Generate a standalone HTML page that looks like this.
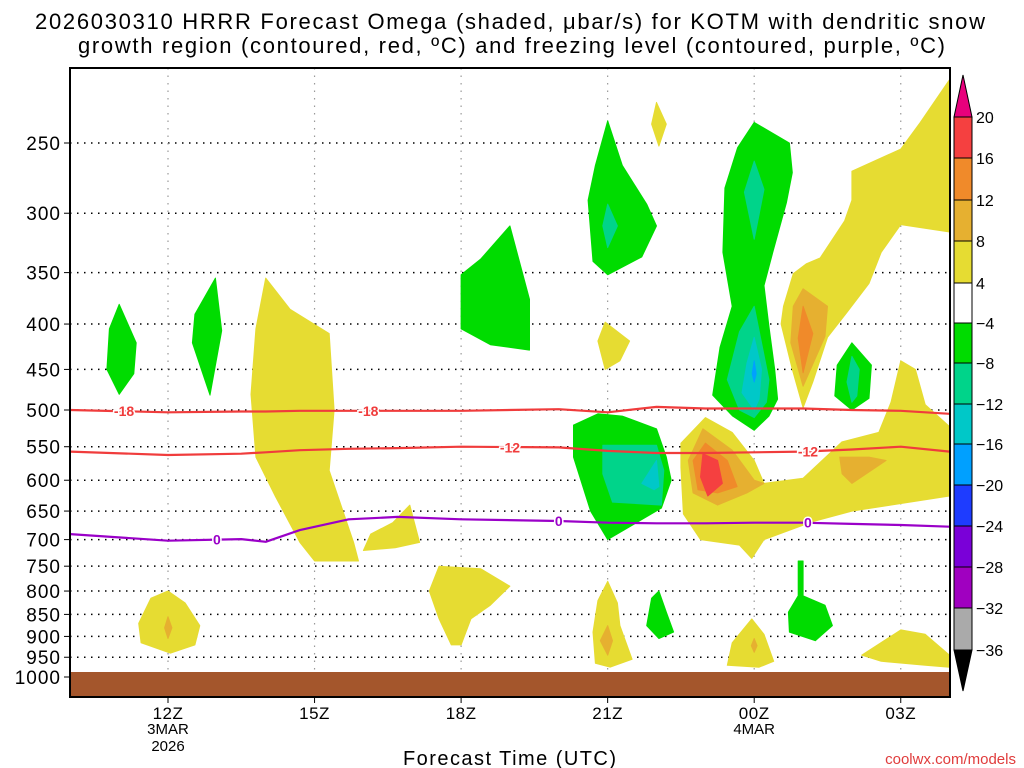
<!DOCTYPE html>
<html><head><meta charset="utf-8"><style>
html,body{margin:0;padding:0;background:#fff;}
svg{display:block;font-family:"Liberation Sans","DejaVu Sans",sans-serif;}
</style></head><body>
<svg id="chart" width="1024" height="768" viewBox="0 0 1024 768" xmlns="http://www.w3.org/2000/svg">
<rect width="1024" height="768" fill="#fff"/>
<text x="35" y="29" textLength="950" lengthAdjust="spacing" font-size="22" fill="#000">2026030310 HRRR Forecast Omega (shaded, μbar/s) for KOTM with dendritic snow</text>
<text x="78" y="53" textLength="867" lengthAdjust="spacing" font-size="22" fill="#000">growth region (contoured, red, ºC) and freezing level (contoured, purple, ºC)</text>
<g id="grid"></g>
<g id="shades"></g>
<g id="lines"></g>
<g id="axes"></g>
<g id="colorbar"></g>
<text x="403" y="765" textLength="213" lengthAdjust="spacing" font-size="20" fill="#000">Forecast Time (UTC)</text>
<text x="1016" y="764" text-anchor="end" font-size="15" fill="#e03c3c">coolwx.com/models</text>
</svg>
<script>
// ---- data ----
const pressureTicks = [250,300,350,400,450,500,550,600,650,700,750,800,850,900,950,1000];
const timeTicks = [12,15,18,21,24,27];
const timeLabels = ["12Z","15Z","18Z","21Z","00Z","03Z"];
const timeSubLabels = ["3MAR\n2026","","","","4MAR",""];
const cbarLevels = [20,16,12,8,4,-4,-8,-12,-16,-20,-24,-28,-32,-36];
const cbarColors = ["#f54040","#f08a2a","#e6b030","#e6dc32","#ffffff","#00dc00","#00d48a","#00c8c8","#00a0ff","#1e3cff","#7a00d8","#a000c0","#aaaaaa"];
// omega shaded regions: [hour (from 00Z 3MAR), pressure hPa]
const yellowUpperRight = [[28,207],[28,212],[27.4,237],[27.0,254],[26.0,269],[26.0,290],[25.85,306],[25.35,337],[25.07,342],[24.8,351],[24.6,382],[24.55,400],[24.78,450],[25.0,497],[25.2,465],[25.5,414],[25.9,388],[26.35,360],[26.6,332],[27.0,309],[28,315]];
const lightOrangeUpper = [[25.0,365],[25.5,382],[25.45,413],[25.0,470],[24.75,420],[24.8,382]];
const orangeUpper = [[25.0,382],[25.2,410],[25.0,454],[24.9,415]];
const yellowLowerRight = [[22.5,545],[23.0,510],[23.55,530],[24.0,570],[24.2,605],[25.0,597],[25.8,543],[26.55,530],[26.8,490],[27.0,440],[27.3,450],[27.5,493],[28,522],[28,625],[26.0,650],[25.2,668],[24.2,700],[23.95,735],[23.7,710],[22.9,700],[22.55,655],[22.5,580]];
const lightOrange23 = [[22.95,525],[23.55,555],[24.0,600],[24.2,605],[23.85,620],[23.25,640],[22.75,620],[22.65,570]];
const orange23 = [[23.0,545],[23.45,570],[23.65,610],[23.25,620],[22.85,615],[22.75,570]];
const red23 = [[22.95,560],[23.25,570],[23.35,605],[23.05,625],[22.9,595]];
const lightOrange02 = [[25.75,565],[26.35,565],[26.7,570],[26.0,605],[25.8,590]];
const yellow15 = [[14.0,355],[14.5,385],[15.3,410],[15.4,500],[15.3,585],[15.8,705],[15.9,740],[15.0,740],[14.7,705],[14.2,626],[13.8,565],[13.7,480],[13.8,405]];
const yellow17 = [[16.95,640],[17.15,705],[16.65,715],[16.0,720],[16.15,690],[16.6,670]];
const yellow21Mid = [[20.95,398],[21.45,418],[21.25,440],[20.95,450],[20.8,418]];
const yellow22Top = [[22.0,225],[22.2,238],[22.05,252],[21.9,238]];
const yellow12Low = [[12,800],[12.35,825],[12.65,875],[12.55,920],[12.05,940],[11.45,915],[11.4,870],[11.65,815]];
const orange12Low = [[12.0,855],[12.08,880],[12.0,905],[11.93,880]];
const yellow18Low = [[17.55,750],[18.4,755],[19.0,790],[18.6,830],[18.2,860],[18.0,920],[17.8,920],[17.55,860],[17.35,800]];
const yellow21Low = [[21.0,780],[21.2,825],[21.25,875],[21.5,955],[21.05,975],[20.75,965],[20.7,890],[20.8,820]];
const orange21Low = [[21.0,875],[21.1,910],[21.0,945],[20.85,910]];
const yellow00Low = [[23.95,860],[24.2,895],[24.4,960],[24.1,975],[23.45,970],[23.55,915]];
const orange00Low = [[24.0,905],[24.06,922],[24.0,938],[23.94,922]];
const yellow03Low = [[27.0,885],[27.5,895],[28,945],[28,975],[27.5,970],[26.6,960],[26.2,945]];
const green11 = [[11.0,380],[11.35,420],[11.3,455],[11.0,480],[10.75,450],[10.8,405]];
const green13 = [[12.97,355],[13.1,407],[12.86,481],[12.5,420],[12.55,390]];
const green19 = [[19.0,310],[19.4,375],[19.4,428],[18.6,422],[18.0,405],[18.0,352],[18.4,338]];
const green21Up = [[21.0,236],[21.3,265],[21.8,293],[22.0,310],[21.7,336],[21.0,352],[20.7,340],[20.6,290],[20.75,265]];
const teal21Up = [[21.0,293],[21.2,310],[21.0,328],[20.9,310]];
const green00 = [[24.0,237],[24.72,250],[24.78,270],[24.66,292],[24.38,332],[24.2,362],[24.3,402],[24.42,450],[24.48,486],[24.3,508],[24.0,527],[23.56,508],[23.15,481],[23.3,425],[23.55,382],[23.36,332],[23.4,281],[23.66,253]];
const teal00Up = [[24.0,262],[24.2,282],[24.0,321],[23.8,284]];
const teal00Low = [[24.0,382],[24.3,462],[24.25,490],[24.0,510],[23.7,500],[23.45,462],[23.7,408]];
const cyan00 = [[24.0,414],[24.15,450],[24.1,486],[24.0,500],[23.75,478],[23.85,443]];
const blue00 = [[24.0,440],[24.04,455],[24.0,465],[23.96,455]];
const green02 = [[26.0,420],[26.4,445],[26.35,485],[26.0,500],[25.65,482],[25.7,445]];
const teal02 = [[26.0,435],[26.15,450],[26.1,482],[26.0,490],[25.9,465]];
const green21Low = [[20.3,520],[20.8,505],[21.3,508],[22.0,525],[22.2,565],[22.3,600],[22.1,645],[21.0,700],[20.65,650],[20.3,565]];
const teal21Low = [[20.9,548],[22.0,548],[22.15,585],[22.1,640],[21.1,635],[20.9,590]];
const cyan21Low = [[22.0,570],[22.05,610],[21.95,615],[21.7,605]];
const green22Low = [[22.05,800],[22.2,845],[22.35,890],[22.05,905],[21.8,875],[21.9,815]];
const green01Low = [[24.9,740],[25.0,740],[25.0,810],[25.45,830],[25.6,875],[25.25,910],[24.72,890],[24.7,845],[24.9,810]];
// isotherm contours
const lineHours = [10,12,13.5,14,14.7,15.7,16.7,18,20,21,22,23,24,25,26,27,28];
const iso18 = [500,503,502,502,501,501,501,501,499,503,496,498,498,498,500,501,505];
const iso12 = [557,562,560,558,555,553,552,550,551,556,559,559,558,557,554,550,557];
const iso0 = [690,702,699,704,683,664,660,664,667,670,671,671,670,670,672,674,677];
const isoLabels = [["-18",11.1,501,"#f03c3c"],["-18",16.1,501,"#f03c3c"],["-12",19.0,551,"#f03c3c"],["-12",25.1,557,"#f03c3c"],["0",13.0,700,"#9a00c8"],["0",20.0,667,"#9a00c8"],["0",25.1,670,"#9a00c8"]];

// ---- axes functions ----
const X0=70, X1=950, Y0=68, Y1=697;
function xs(h){return 168+(h-12)*48.85;}
function ys(p){return 143+385.2*Math.log(p/250);}
const NS="http://www.w3.org/2000/svg";
function mk(tag,attrs,parent){const e=document.createElementNS(NS,tag);for(const k in attrs)e.setAttribute(k,attrs[k]);parent.appendChild(e);return e;}
const grid=document.getElementById('grid'), shades=document.getElementById('shades'), lines=document.getElementById('lines'), axes=document.getElementById('axes'), cb=document.getElementById('colorbar');

let g=mk('rect',{x:X0,y:ys(1000)-5,width:X1-X0,height:Y1-ys(1000)+5,fill:'#a4562c'},shades);



const shapeList=[
 [yellowUpperRight,3,'yellow-upper-right'],[lightOrangeUpper,2,'light-orange-upper'],[orangeUpper,1,'orange-upper'],
 [yellowLowerRight,3,'yellow-lower-right'],[lightOrange23,2,'light-orange-23z'],[orange23,1,'orange-23z'],[red23,0,'red-23z'],[lightOrange02,2,'light-orange-02z'],
 [yellow15,3,'yellow-15z'],[yellow17,3,'yellow-17z'],[yellow21Mid,3,'yellow-21z-mid'],[yellow22Top,3,'yellow-22z-top'],
 [yellow12Low,3,'yellow-12z-low'],[orange12Low,2,'orange-12z-low'],[yellow18Low,3,'yellow-18z-low'],[yellow21Low,3,'yellow-21z-low'],[orange21Low,2,'orange-21z-low'],
 [yellow00Low,3,'yellow-00z-low'],[orange00Low,2,'orange-00z-low'],[yellow03Low,3,'yellow-03z-low'],
 [green11,5,'green-11z'],[green13,5,'green-13z'],[green19,5,'green-19z'],[green21Up,5,'green-21z-upper'],[teal21Up,6,'teal-21z-upper'],
 [green00,5,'green-00z'],[teal00Up,6,'teal-00z-upper'],[teal00Low,6,'teal-00z-lower'],[cyan00,7,'cyan-00z'],[blue00,8,'blue-00z'],
 [green02,5,'green-02z'],[teal02,6,'teal-02z'],[green21Low,5,'green-21z-lower'],[teal21Low,6,'teal-21z-lower'],[cyan21Low,7,'cyan-21z-lower'],
 [green22Low,5,'green-22z-low'],[green01Low,5,'green-01z-low']
];
shapeList.forEach(s=>{
 const pts=s[0].map(q=>xs(q[0]).toFixed(1)+','+ys(q[1]).toFixed(1)).join(' ');
 const el=mk('polygon',{points:pts,fill:cbarColors[s[1]],'stroke':cbarColors[s[1]],'stroke-width':1,'stroke-linejoin':'round'},shades);
 
 
});

pressureTicks.forEach(p=>{
 const y=ys(p);
 const l=mk('line',{x1:X0,x2:X1,y1:y,y2:y,stroke:'#000','stroke-width':1.5,'stroke-dasharray':'1.5 5.5'},grid);
 
 
 const t=mk('line',{x1:X0-6,x2:X0,y1:y,y2:y,stroke:'#000','stroke-width':1},axes);
 
 
 const tx=mk('text',{x:X0-9,y:y+7,'text-anchor':'end','font-size':19,'letter-spacing':1,fill:'#000'},axes);
 tx.textContent=String(p);
 
 
});
timeTicks.forEach((h,i)=>{
 const x=xs(h);
 const l=mk('line',{x1:x,x2:x,y1:Y0,y2:Y1,stroke:'#999','stroke-width':1.2,'stroke-dasharray':'1.5 6'},grid);
 
 
 const t=mk('line',{x1:x,x2:x,y1:Y1,y2:Y1+6,stroke:'#000'},axes);
 
 
 const tx=mk('text',{x:x,y:Y1+22,'text-anchor':'middle','font-size':17,'letter-spacing':0.5,fill:'#000'},axes);
 tx.textContent=timeLabels[i];
 
 
 timeSubLabels[i].split('\n').forEach((s,j)=>{ if(!s)return;
  const st=mk('text',{x:x,y:Y1+37+j*17,'text-anchor':'middle','font-size':15,fill:'#000'},axes);
  st.textContent=s;
  
  
 });
});

[[iso18,'#f03c3c','isotherm-minus18'],[iso12,'#f03c3c','isotherm-minus12'],[iso0,'#9a00c8','freezing-level-0c']].forEach(L=>{
 const d=L[0].map((p,i)=>(i?'L':'M')+xs(lineHours[i]).toFixed(1)+','+ys(p).toFixed(1)).join(' ');
 const el=mk('path',{d:d,fill:'none',stroke:L[1],'stroke-width':2.2,'stroke-linejoin':'round'},lines);
 
 
});
isoLabels.forEach(a=>{
 const x=xs(a[1]), y=ys(a[2]);
 const t=mk('text',{x:x,y:y+5,'text-anchor':'middle','font-size':14,'font-weight':'bold',fill:a[3],stroke:'#fff','stroke-width':3,'paint-order':'stroke'},lines);
 t.textContent=a[0];
 
 
});

let fr=mk('rect',{x:X0,y:Y0,width:X1-X0,height:Y1-Y0,fill:'none',stroke:'#000','stroke-width':2},axes);



const CX=954, CW=18, cbY=[117,158,200,241,283,323,363,404,444,485,526,567,608,650];
let tri=mk('polygon',{points:`${CX},117 ${CX+CW},117 ${CX+CW/2},75`,fill:'#e8007c',stroke:'#000'},cb);


for(let i=0;i<cbarColors.length;i++){
 const r=mk('rect',{x:CX,y:cbY[i],width:CW,height:cbY[i+1]-cbY[i],fill:cbarColors[i],stroke:'#000','stroke-width':1},cb);
 
 
}
tri=mk('polygon',{points:`${CX},650 ${CX+CW},650 ${CX+CW/2},691`,fill:'#000',stroke:'#000'},cb);


cbarLevels.forEach((v,i)=>{
 const t=mk('text',{x:CX+CW+4,y:cbY[i]+6,'font-size':16,fill:'#000'},cb);
 t.textContent=v<0?'\u2212'+(-v):String(v);
 
 
});
</script>
</body></html>
